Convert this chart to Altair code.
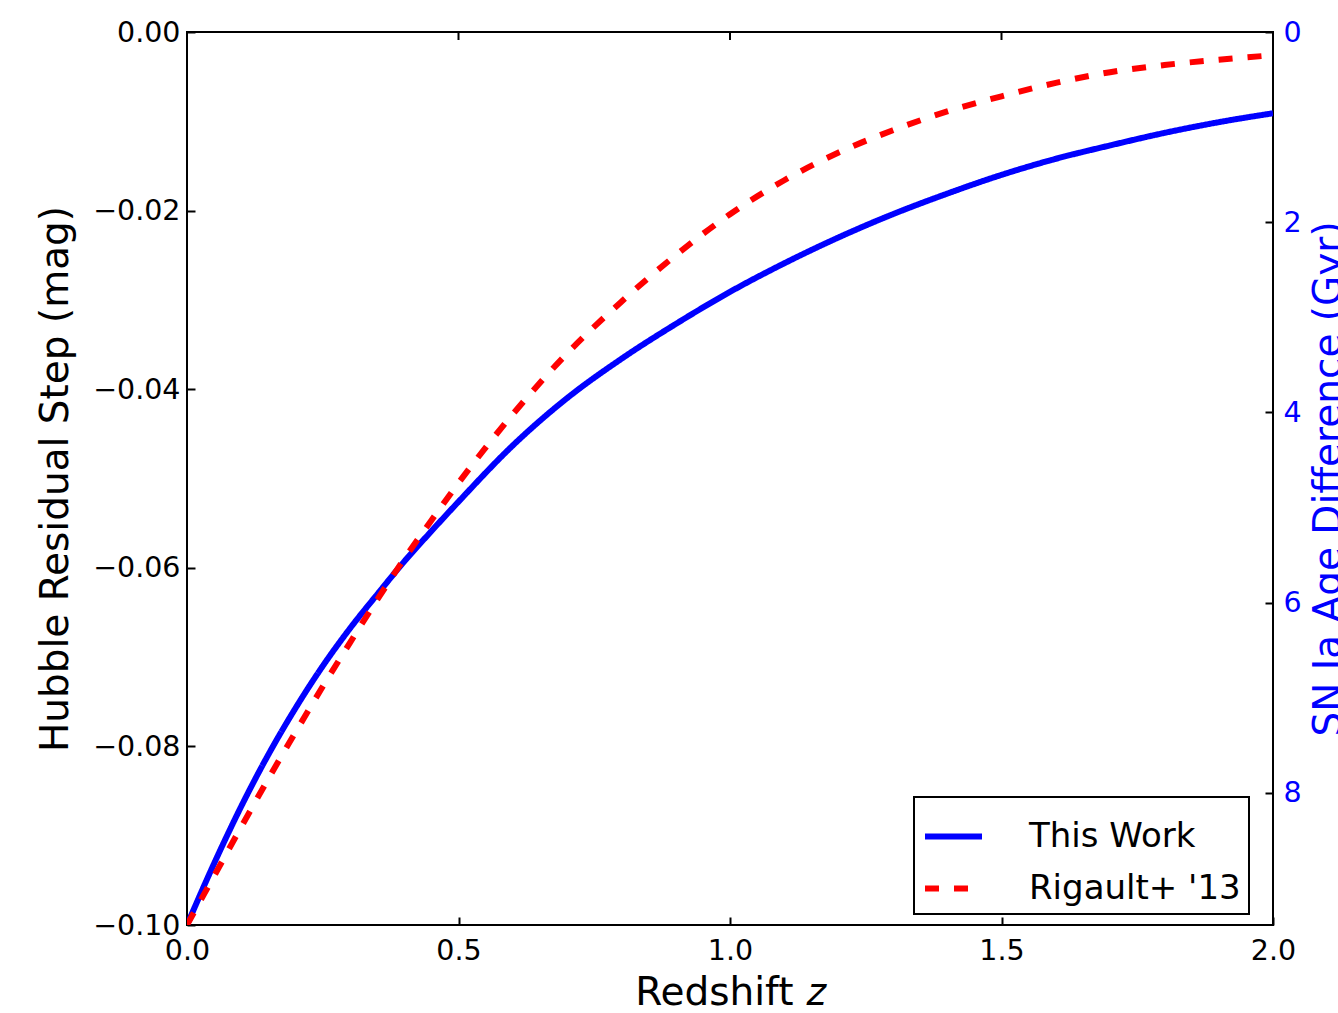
import altair as alt
import pandas as pd

# Redshift grid and the two curves (Hubble residual step, mag)
z_vals = [0.0, 0.05, 0.1, 0.15, 0.2, 0.25, 0.3, 0.35, 0.4, 0.45, 0.5, 0.6, 0.7, 0.8,
          0.9, 1.0, 1.1, 1.2, 1.3, 1.4, 1.5, 1.6, 1.7, 1.8, 1.9, 2.0]
this_work = [-0.1000, -0.0931, -0.0867, -0.0809, -0.0757, -0.0710, -0.0668, -0.0630,
             -0.0593, -0.0559, -0.0526, -0.0463, -0.0410, -0.0366, -0.0327, -0.0291,
             -0.0259, -0.0230, -0.0204, -0.0181, -0.0160, -0.0142, -0.0127, -0.0113,
             -0.0101, -0.0091]
rigault = [-0.1000, -0.0945, -0.0890, -0.0836, -0.0784, -0.0733, -0.0684, -0.0636,
           -0.0590, -0.0547, -0.0505, -0.0428, -0.0360, -0.0302, -0.0250, -0.0204,
           -0.0166, -0.0135, -0.0110, -0.0089, -0.0072, -0.0057, -0.0045, -0.0037,
           -0.0031, -0.0026]

series_names = ["This Work", "Rigault+ '13"]
series_colors = ["#0000ff", "#ff0000"]
series_dashes = [[1, 0], [14, 15]]

x_ticks = [0.0, 0.5, 1.0, 1.5, 2.0]
top_ticks = [0.5, 1.0, 1.5]
y_ticks = [-0.10, -0.08, -0.06, -0.04, -0.02, 0.00]
age_ticks = [0, 2, 4, 6, 8]
age_domain = [9.39, 0]

df = pd.DataFrame({
    "z": z_vals * 2,
    "step": this_work + rigault,
    "series": [series_names[0]] * len(z_vals) + [series_names[1]] * len(z_vals),
})

FONT = "DejaVu Sans"

x_enc = alt.X(
    "z:Q",
    scale=alt.Scale(domain=[0, 2], nice=False, zero=False),
    axis=alt.Axis(values=x_ticks, format=".1f", title="Redshift 𝑧", offset=-8,
                  labelPadding=11, titlePadding=9, labelFlush=False, labelOverlap=False),
)

legend = alt.Legend(orient="none", legendX=727, legendY=765)

lines = alt.Chart(df).mark_line(strokeWidth=6, clip=True, interpolate="monotone").encode(
    x=x_enc,
    y=alt.Y(
        "step:Q",
        scale=alt.Scale(domain=[-0.1, 0.0], nice=False, zero=False),
        axis=alt.Axis(values=y_ticks, format=".2f", title="Hubble Residual Step (mag)",
                      offset=-8, labelPadding=7, titlePadding=17, labelOverlap=False),
    ),
    color=alt.Color("series:N", title=None,
                    scale=alt.Scale(domain=series_names, range=series_colors),
                    legend=legend),
    strokeDash=alt.StrokeDash("series:N", title=None,
                              scale=alt.Scale(domain=series_names, range=series_dashes),
                              legend=legend),
)

top = alt.Chart(pd.DataFrame({"z": top_ticks})).mark_rule(color="black", strokeWidth=2).encode(
    x=x_enc,
    y=alt.value(0),
    y2=alt.value(8),
)

right = alt.Chart(pd.DataFrame({"age": age_ticks})).mark_point(opacity=0).encode(
    y=alt.Y(
        "age:Q",
        scale=alt.Scale(domain=age_domain, nice=False, zero=False),
        axis=alt.Axis(orient="right", values=age_ticks, format="d",
                      title="SN Ia Age Difference (Gyr)", offset=-8, labelPadding=10,
                      titlePadding=8, titleAngle=270, titleBaseline="top",
                      labelColor="#0000ff", titleColor="#0000ff", labelOverlap=False),
    ),
)

chart = alt.layer(lines, top, right).resolve_scale(y="independent").properties(
    width=1086,
    height=893,
    autosize=alt.AutoSizeParams(type="none"),
    padding={"left": 187, "top": 32, "right": 65, "bottom": 88},
    background="white",
).configure_view(
    stroke="black", strokeWidth=2
).configure_axis(
    labelFont=FONT, titleFont=FONT, labelFontSize=28.5, titleFontSize=39,
    titleFontWeight="normal", domain=False, grid=False, tickColor="black",
    tickWidth=2, tickSize=8, labelColor="black", titleColor="black",
).configure_legend(
    labelFont=FONT, labelFontSize=34, labelColor="black", labelLimit=500,
    symbolType="stroke", symbolStrokeWidth=6, symbolSize=3249,
    strokeColor="black", strokeWidth=2, fillColor="white", padding=8,
    labelOffset=44, rowPadding=3, cornerRadius=0,
)

chart.save("out.html", embed_options={"renderer": "svg", "actions": False})
